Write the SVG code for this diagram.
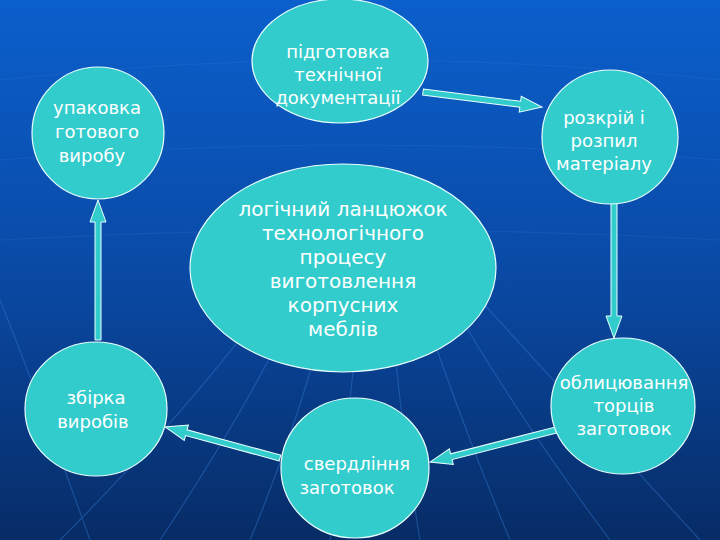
<svg xmlns="http://www.w3.org/2000/svg" width="720" height="540" viewBox="0 0 720 540">
<defs>
<linearGradient id="bg" x1="0" y1="0" x2="0" y2="1">
<stop offset="0" stop-color="#0b5fcc"/><stop offset="0.5" stop-color="#0a4aa6"/><stop offset="1" stop-color="#072c66"/>
</linearGradient>
<style>
.n{fill:#33cccc;stroke:#e8ffff;stroke-width:1.2}
.a{fill:#33cccc;stroke:#e8ffff;stroke-width:1}
.t{font-family:"DejaVu Sans",sans-serif;font-size:18px;fill:#ffffff;text-anchor:middle}
.g{fill:none;stroke:#3a7fd8;stroke-width:1.2;opacity:0.4}
</style>
</defs>
<rect width="720" height="540" fill="url(#bg)"/>
<g id="grid">
<path class="g" d="M330 300 Q300 420 250 540 M360 300 Q350 420 330 540 M390 300 Q400 420 420 540 M300 300 Q240 420 160 540 M420 300 Q460 420 510 540 M270 300 Q180 420 60 540 M450 300 Q520 420 610 540 M480 300 Q590 420 700 540 M0 300 Q40 400 90 540"/>
<path class="g" style="opacity:0.2" d="M0 80 Q360 40 720 80 M0 160 Q360 130 720 160 M0 240 Q360 220 720 240"/>
</g>
<g id="connectors">
<polygon class="a" transform="translate(423,92) rotate(7.2)" points="0,-3 98,-3 98,-8 120,0 98,8 98,3 0,3"/>
<polygon class="a" transform="translate(614,203) rotate(90)" points="0,-3 113,-3 113,-8 135,0 113,8 113,3 0,3"/>
<polygon class="a" transform="translate(556,430) rotate(165.7)" points="0,-3 108,-3 108,-8 130,0 108,8 108,3 0,3"/>
<polygon class="a" transform="translate(280,458) rotate(195.1)" points="0,-3 97,-3 97,-8 119,0 97,8 97,3 0,3"/>
<polygon class="a" transform="translate(98,340) rotate(-90)" points="0,-3 118,-3 118,-8 140,0 118,8 118,3 0,3"/>
</g>
<g id="n1"><ellipse class="n" cx="98" cy="133" rx="66" ry="66"/>
<text class="t"><tspan x="97" y="114">упаковка</tspan><tspan x="97" y="138">готового</tspan><tspan x="92" y="162">виробу</tspan></text></g>
<g id="n2"><ellipse class="n" cx="340" cy="61" rx="88" ry="62"/>
<text class="t"><tspan x="338" y="58">підготовка</tspan><tspan x="338" y="81">технічної</tspan><tspan x="338" y="104">документації</tspan></text></g>
<g id="n3"><ellipse class="n" cx="610" cy="137" rx="68" ry="67"/>
<text class="t"><tspan x="604" y="124">розкрій і</tspan><tspan x="604" y="147">розпил</tspan><tspan x="604" y="170">матеріалу</tspan></text></g>
<g id="n4"><ellipse class="n" cx="343" cy="268" rx="153" ry="104"/>
<text class="t" style="font-size:20px"><tspan x="343" y="216">логічний ланцюжок</tspan><tspan x="343" y="240">технологічного</tspan><tspan x="343" y="264">процесу</tspan><tspan x="343" y="288">виготовлення</tspan><tspan x="343" y="312">корпусних</tspan><tspan x="343" y="336">меблів</tspan></text></g>
<g id="n5"><ellipse class="n" cx="623" cy="406" rx="72" ry="68"/>
<text class="t"><tspan x="624" y="389">облицювання</tspan><tspan x="624" y="412">торців</tspan><tspan x="624" y="435">заготовок</tspan></text></g>
<g id="n6"><ellipse class="n" cx="355" cy="468" rx="74" ry="70"/>
<text class="t"><tspan x="357" y="470">свердління</tspan><tspan x="347" y="494">заготовок</tspan></text></g>
<g id="n7"><ellipse class="n" cx="96" cy="409" rx="71" ry="67"/>
<text class="t"><tspan x="96" y="404">збірка</tspan><tspan x="93" y="428">виробів</tspan></text></g>
</svg>
